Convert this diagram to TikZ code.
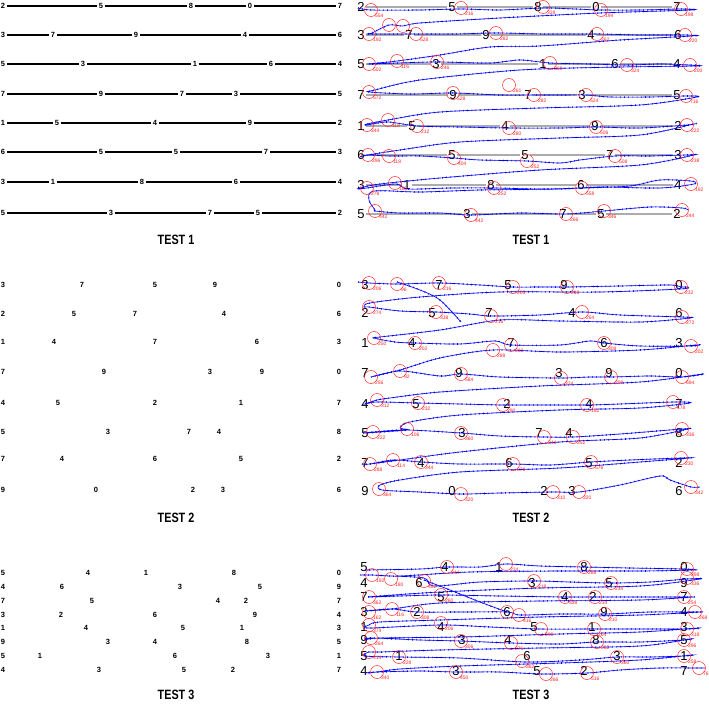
\documentclass[tikz,border=0pt]{standalone}
\usepackage{graphicx}
\usepackage{fontspec}
\setsansfont{Liberation Sans}
\usepackage{tikz}

\tikzset{
  ldig/.style={font=\sffamily\bfseries\fontsize{7.5}{7.5}\selectfont, inner sep=2pt},
  rdig/.style={font=\sffamily\fontsize{13}{13}\selectfont, inner sep=1.5pt},
  lline/.style={black, line width=1.2pt},
  gline/.style={gray!65, line width=2pt},
  trace/.style={blue, line width=0.65pt,
    postaction={draw=blue, line width=1.6pt, dash pattern=on 0.6pt off 3.6pt}},
  fix/.style={circle, draw=red!85, line width=0.5pt, minimum size=13pt, inner sep=0pt},
  fixlab/.style={red!85, font=\sffamily\fontsize{5}{5}\selectfont, inner sep=0.5pt, label distance=-2pt},
  testlab/.style={font=\sffamily\bfseries\fontsize{13.5}{13.5}\selectfont}
}

\begin{document}
\begin{tikzpicture}[x=1pt, y=-1pt]
\useasboundingbox (0,0) rectangle (709,706);

% TEST 1, left
\foreach \y/\row [count=\r] in {6/{3/2,101/5,191/8,250/0,340/7},
 35/{3/3,53/7,136/9,245/4,340/6},
 64/{3/5,83/3,195/1,271/6,340/4},
 94/{3/7,101/9,182/7,236/3,340/5},
 123/{3/1,57/5,155/4,250/9,340/2},
 152/{3/6,101/5,176/5,266/7,340/3},
 182/{3/3,53/1,142/8,236/6,340/4},
 213/{3/5,111/3,210/7,258/5,340/2}}{
  \foreach \x/\d [count=\c] in \row
    \node[ldig] (a\r-\c) at (\x,\y) {\d};
  \foreach \c [evaluate=\c as \n using int(\c+1)] in {1,...,4}
    \draw[lline] (a\r-\c) -- (a\r-\n);
}

% TEST 2, left
\foreach \y/\row [count=\r] in {285/{3/3,82/7,155/5,215/9,339/0},
 314/{3/2,74/5,135/7,224/4,339/6},
 342/{3/1,54/4,155/7,257/6,339/3},
 372/{3/7,104/9,210/3,262/9,339/0},
 403/{3/4,58/5,155/2,241/1,339/7},
 432/{3/5,108/3,189/7,219/4,339/8},
 459/{3/7,62/4,155/6,241/5,339/2},
 490/{3/9,96/0,193/2,223/3,339/6}}{
  \foreach \x/\d [count=\c] in \row
    \node[ldig] (b\r-\c) at (\x,\y) {\d};
}

% TEST 3, left
\foreach \y/\row [count=\r] in {573/{3/5,88/4,146/1,234/8,339/0},
 587/{3/4,62/6,180/3,260/5,339/9},
 601/{3/7,92/5,218/4,246/2,339/7},
 615/{3/3,61/2,155/6,255/9,339/4},
 628/{3/1,86/4,183/5,242/1,339/3},
 642/{3/9,108/3,155/4,247/8,339/5},
 656/{3/5,40/1,175/6,268/3,339/1},
 670/{3/4,99/3,184/5,233/2,339/7}}{
  \foreach \x/\d [count=\c] in \row
    \node[ldig] (c\r-\c) at (\x,\y) {\d};
}

% TEST 1, right
\foreach \y/\row [count=\r] in {7/{361/2,452/5,538/8,596/0,677/7},
 35/{361/3,409/7,486/9,591/4,678/6},
 64/{361/5,436/3,543/1,615/6,677/4},
 95/{361/7,453/9,528/7,582/3,677/5},
 126/{361/1,412/5,505/4,595/9,678/2},
 155/{361/6,452/5,525/5,610/7,678/3},
 185/{361/3,407/1,491/8,581/6,678/4},
 214/{361/5,467/3,563/7,601/5,677/2}}{
  \foreach \x/\d [count=\c] in \row
    \node[rdig] (d\r-\c) at (\x,\y) {\d};
  \foreach \c [evaluate=\c as \n using int(\c+1)] in {1,...,4}
    \draw[gline] (d\r-\c) -- (d\r-\n);
}

% TEST 2, right
\foreach \y/\row [count=\r] in {285/{365/3,439/7,508/5,564/9,679/0},
 313/{365/2,432/5,489/7,572/4,679/6},
 343/{365/1,412/4,511/7,604/6,679/3},
 373/{365/7,459/9,559/3,609/9,679/0},
 404/{365/4,416/5,507/2,589/4,679/7},
 433/{365/5,462/3,539/7,569/4,679/8},
 463/{365/7,421/4,509/6,589/5,679/2},
 491/{365/9,452/0,544/2,572/3,679/6}}{
  \foreach \x/\d [count=\c] in \row
    \node[rdig] (e\r-\c) at (\x,\y) {\d};
}

% TEST 3, right
\foreach \y/\row [count=\r] in {567/{364/5,445/4,499/1,584/8,684/0},
 583/{364/4,419/6,532/3,609/5,684/9},
 597/{364/7,441/5,565/4,593/2,684/7},
 612/{364/3,417/2,507/6,604/9,684/4},
 627/{364/1,441/4,534/5,592/1,684/3},
 640/{364/9,462/3,508/4,596/8,684/5},
 656/{364/5,399/1,527/6,617/3,684/1},
 671/{364/4,456/3,537/5,584/2,684/7}}{
  \foreach \x/\d [count=\c] in \row
    \node[rdig] (f\r-\c) at (\x,\y) {\d};
}

% eye traces
\draw[trace] plot[smooth, tension=0.5] coordinates {
 (358,8) (371,10) (420,10) (461,9) (500,10) (543,8) (575,9) (601,10) (640,10) (681,9) (692,10)
 (600,13) (500,18) (420,23) (403,26) (389,25) (372,33)
 (369,34) (416,34) (455,34) (496,33) (545,34) (597,34) (640,35) (685,35) (692,36)
 (620,40) (540,46) (490,47) (440,55) (397,61) (369,64)
 (397,63) (437,62) (490,63) (520,60) (550,63) (590,64) (627,65) (660,64) (690,65) (698,66)
 (620,67) (520,70) (420,80) (375,90)
 (369,92) (410,94) (453,93) (500,95) (534,95) (560,95) (586,95) (610,97) (650,97) (686,96) (697,97)
 (640,105) (540,108) (440,112) (388,120) (367,124)
 (367,125) (388,122) (417,126) (460,127) (509,128) (560,128) (596,127) (640,128) (687,125) (694,124)
 (640,135) (560,138) (460,142) (400,150) (368,155)
 (360,157) (368,155) (389,156) (420,156) (454,158) (480,160) (527,161) (560,163) (580,160) (615,156) (650,156) (687,155) (694,155)
 (640,165) (540,170) (440,178) (380,184) (360,188)
 (358,189) (367,188) (396,184) (408,189) (450,188) (494,188) (540,189) (582,188) (630,186) (660,180) (691,181) (694,184)
 (660,188) (600,187) (560,189) (480,190) (420,192) (374,191) (369,200) (375,210)
 (375,211) (400,213) (440,213) (471,215) (520,213) (566,214) (604,211) (650,207) (682,208) (688,210)};
\draw[trace] plot[smooth, tension=0.5] coordinates {
 (358,282) (369,283) (397,284) (439,283) (480,285) (513,287) (540,287) (567,287) (620,286) (670,285) (681,287) (688,287)
 (680,289) (600,292) (500,292) (420,297) (370,303)
 (364,307) (369,307) (400,311) (436,312) (470,314) (491,316) (540,315) (582,312) (620,315) (682,317) (690,318)
 (640,322) (560,321) (500,320) (440,330) (380,337) (374,338)
 (395,342) (415,343) (460,344) (495,341) (511,345) (560,345) (590,341) (604,343) (640,346) (691,346) (696,345)
 (640,350) (560,352) (493,350) (440,358) (400,370) (371,377)
 (400,371) (440,376) (461,374) (500,377) (561,378) (590,377) (611,377) (650,376) (682,377) (703,374)
 (640,382) (540,386) (440,392) (390,398) (377,400)
 (365,404) (377,402) (418,403) (460,404) (503,405) (540,405) (587,405) (620,404) (674,402) (690,403)
 (640,408) (560,410) (460,415) (410,422) (400,428) (407,430)
 (365,433) (373,432) (407,430) (461,433) (500,436) (544,437) (573,437) (620,434) (682,429) (688,429)
 (640,438) (560,442) (460,452) (400,460) (370,464)
 (362,464) (370,464) (393,460) (421,462) (460,464) (513,464) (550,465) (591,462) (630,460) (681,458) (690,458)
 (640,462) (560,468) (460,472) (400,480) (380,485)
 (382,490) (420,492) (461,494) (500,493) (553,492) (579,492) (620,485) (660,476) (670,480) (691,487) (700,487)};
\draw[trace] plot[smooth, tension=0.5] coordinates {(397,282) (420,290) (440,300) (461,322)};
\draw[trace] plot[smooth, tension=0.5] coordinates {
 (365,570) (420,569) (447,567) (480,567) (506,564) (540,566) (584,567) (630,568) (684,569) (694,570)
 (640,571) (560,571) (470,572) (400,576) (372,575)
 (360,575) (372,575) (391,576) (424,578) (434,586) (480,582) (534,581) (570,582) (611,583) (650,582) (687,579) (700,579)
 (640,586) (540,588) (440,592) (380,596) (369,597)
 (400,596) (441,595) (500,596) (565,597) (595,597) (640,597) (684,597) (693,597)
 (640,600) (540,601) (440,603) (392,609)
 (365,611) (392,609) (417,612) (460,612) (507,612) (520,615) (560,614) (605,614) (650,612) (695,612) (700,612)
 (640,615) (540,617) (440,620) (380,622) (369,625)
 (369,628) (441,625) (490,627) (540,629) (594,629) (640,629) (687,629) (698,628)
 (640,632) (560,634) (460,637) (380,638)
 (365,640) (371,638) (420,640) (461,641) (511,643) (560,644) (597,642) (640,642) (684,640) (690,639)
 (640,646) (540,648) (440,650) (380,652) (369,652)
 (365,656) (399,657) (460,658) (526,662) (580,660) (617,657) (650,657) (684,656) (692,655)
 (640,660) (560,663) (460,666) (400,669) (377,672)
 (365,673) (377,672) (420,671) (456,672) (500,672) (542,674) (587,673) (620,670) (660,668) (699,668) (705,668)};
\draw[trace] plot[smooth, tension=0.5] coordinates {(424,580) (450,590) (480,602) (507,612)};

% fixations
\foreach \x/\y/\t in {371/10/554, 461/8/216, 543/7/328, 601/10/194, 681/9/198,
 389/25/{}, 403/26/{},
 369/34/192, 416/34/528, 496/33/282, 597/34/262, 685/35/220,
 369/64/502, 397/61/116, 437/62/246, 550/63/360, 627/65/324, 690/65/200,
 369/92/572, 453/93/528, 509/85/261, 534/95/282, 586/95/524, 686/96/716,
 367/125/344, 388/120/118, 417/126/212, 509/128/280, 596/127/506, 687/125/222,
 368/155/296, 389/156/118, 454/158/404, 527/161/252, 615/156/508, 687/155/238,
 367/188/278, 395/183/180, 494/188/252, 582/188/558, 691/184/192,
 375/211/442, 471/215/442, 566/214/266, 604/211/346, 682/210/244,
 369/283/206, 397/284/96, 439/283/216, 513/287/200, 567/287/216, 681/287/232,
 369/307/274, 436/312/338, 491/316/216, 582/312/264, 682/317/272,
 374/338/250, 415/343/202, 511/345/232, 493/350/288, 604/343/308, 691/346/202,
 371/377/256, 400/371/92, 461/374/584, 561/378/324, 611/377/208, 682/377/694,
 377/400/312, 418/403/232, 503/405/290, 587/405/182, 673/402/178,
 373/432/222, 407/429/106, 461/433/360, 544/437/244, 573/437/252, 682/429/336,
 370/464/288, 393/460/114, 421/462/344, 513/464/278, 591/462/576, 681/458/230,
 379/489/364, 461/494/320, 553/492/310, 579/492/320, 691/487/342,
 447/567/244, 506/564/224, 584/567/288, 687/569/298,
 372/575/192, 391/579/180, 424/581/452, 534/581/218, 611/583/234, 687/578/336,
 369/597/362, 441/595/260, 565/597/338, 595/597/234, 684/597/254,
 369/612/162, 392/609/116, 417/612/308, 507/612/{}, 519/615/416, 605/614/210, 695/612/268,
 369/625/374, 441/623/206, 541/629/290, 594/629/264, 687/629/318,
 371/638/264, 461/641/306, 511/643/276, 597/642/262, 684/640/296,
 369/652/414, 399/657/228, 522/661/362, 617/657/360, 684/656/258,
 377/672/340, 456/672/450, 546/674/266, 587/673/516, 699/668/76}
 \node[fix, label={[fixlab]south east:\t}] at (\x,\y) {};

% captions
\node[testlab] (t1a) at (176,240) {\scalebox{0.8}[1]{TEST 1}};
\node[testlab] (t1b) at (531,240) {\scalebox{0.8}[1]{TEST 1}};
\node[testlab] (t2a) at (176,518) {\scalebox{0.8}[1]{TEST 2}};
\node[testlab] (t2b) at (531,518) {\scalebox{0.8}[1]{TEST 2}};
\node[testlab] (t3a) at (176,695) {\scalebox{0.8}[1]{TEST 3}};
\node[testlab] (t3b) at (531,695) {\scalebox{0.8}[1]{TEST 3}};
\end{tikzpicture}
\end{document}
